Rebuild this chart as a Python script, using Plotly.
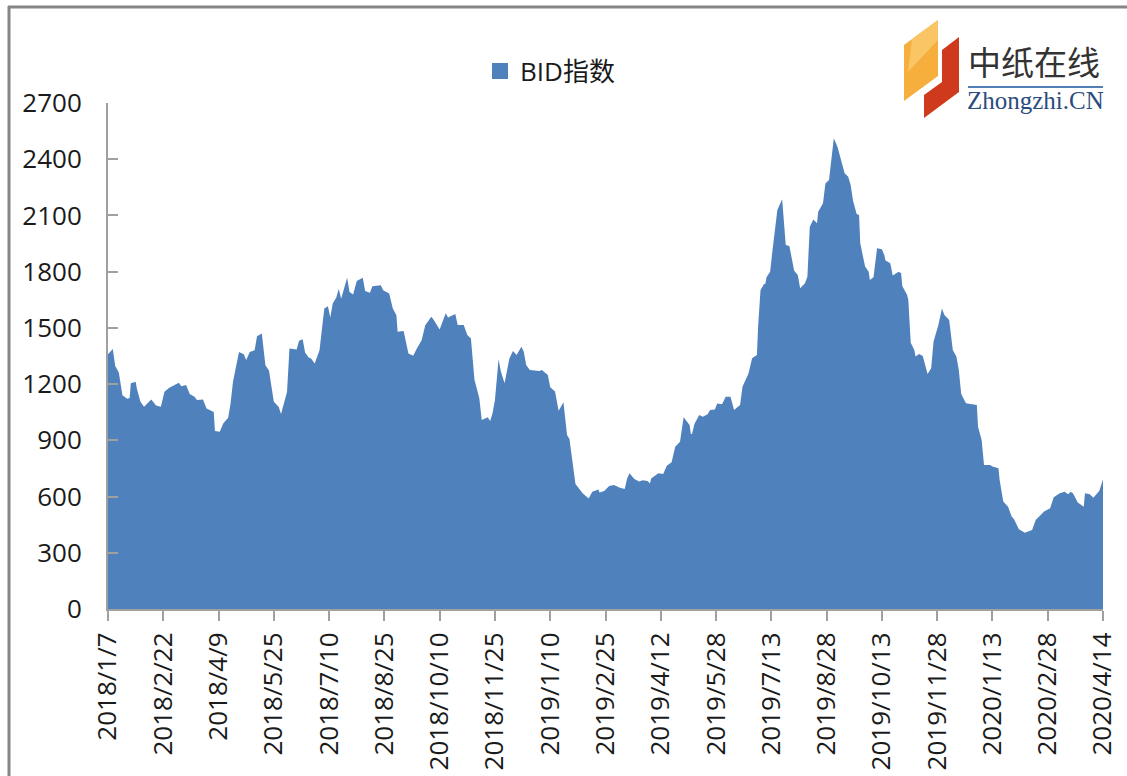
import pandas as pd
import plotly.graph_objects as go

START = "2018-01-07"
day_offsets = [0,2,4,6,9,12,16,18,19,23,24,27,30,36,40,44,47,51,59,61,65,68,72,74,79,82,88,89,93,96,100,102,104,109,113,115,118,122,124,128,131,134,138,142,144,149,151,157,159,162,164,167,169,172,176,180,183,185,187,190,192,194,199,201,204,207,212,214,218,220,227,229,234,237,240,241,246,250,254,257,261,264,269,271,276,
281,283,289,291,296,299,302,305,309,311,316,318,320,322,325,327,330,334,337,340,344,346,348,351,359,361,366,368,372,375,379,382,384,387,389,395,400,403,408,409,413,417,421,426,430,432,434,438,442,445,449,451,452,458,462,465,469,472,476,479,484,485,486,488,492,495,499,501,505,507,511,514,518,521,526,528,533,
536,540,541,543,546,547,548,551,553,557,561,563,564,567,569,571,574,576,580,582,584,587,590,591,595,597,600,602,604,607,610,613,616,618,620,623,625,626,630,633,634,637,640,644,646,647,651,653,658,660,661,665,666,668,671,672,675,678,682,685,687,691,694,696,700,703,706,708,710,714,723,724,727,729,734,736,741,742,745,749,752,754,758,763,769,772,779,784,787,792,796,799,801,803,807,812,813,817,820,825,828]
bid_index = [1360,1372,1388,1296,1262,1141,1122,1126,1204,1212,1177,1106,1079,1118,1086,1079,1159,1180,1207,1189,1195,1147,1133,1115,1118,1070,1051,950,946,991,1021,1097,1212,1372,1360,1328,1372,1381,1456,1470,1301,1271,1106,1079,1040,1159,1390,1385,1431,1440,1369,1342,1337,1310,1381,1603,1615,1555,1630,1662,1709,1656,1768,1692,1678,1750,1768,1697,1688,1722,1727,1701,1683,1603,1567,1479,1484,1363,1351,1390,1434,1514,1559,1544,1492,
1578,1556,1574,1515,1515,1462,1444,1222,1124,1008,1023,1003,1044,1115,1332,1266,1204,1337,1377,1355,1400,1373,1302,1275,1270,1275,1249,1183,1160,1058,1103,928,907,777,667,617,590,626,638,621,630,656,662,647,640,697,724,694,681,687,683,669,697,724,720,765,783,866,893,1023,982,934,934,987,1035,1026,1039,1062,1065,1097,1092,1133,1133,1062,1088,1186,1257,
1338,1355,1507,1702,1734,1734,1770,1800,1916,2129,2186,2005,1942,1937,1880,1805,1782,1711,1738,1773,2040,2079,2058,2120,2165,2271,2289,2396,2512,2467,2396,2325,2307,2262,2179,2108,2102,1951,1827,1800,1756,1770,1925,1919,1889,1859,1845,1779,1800,1791,1724,1676,1649,1421,1382,1347,1361,1350,1254,1284,1427,1515,1604,1569,1542,1382,1347,1275,1147,1098,1089,973,902,768,768,760,751,688,573,546,493,479,425,407,422,475,520,537,596,617,626,612,626,617,568,546,617,612,594,631,692]
tick_labels = ["2018/1/7","2018/2/22","2018/4/9","2018/5/25","2018/7/10","2018/8/25","2018/10/10","2018/11/25","2019/1/10","2019/2/25","2019/4/12","2019/5/28","2019/7/13","2019/8/28","2019/10/13","2019/11/28","2020/1/13","2020/2/28","2020/4/14"]
y_ticks = [0,300,600,900,1200,1500,1800,2100,2400,2700]

W, H = 1127, 776
L, R, T, B = 108, 1103, 103, 609
FONT = "Open Sans, Noto Sans CJK SC, sans-serif"
GREY = "#868686"
AXIS = "#A0A0A0"

def px(x):
    return (x - L) / (R - L)
def py(y):
    return (B - y) / (B - T)
def path(points):
    return "M " + " L ".join(f"{px(x):.5f},{py(y):.5f}" for x, y in points) + " Z"

dates = pd.Timestamp(START) + pd.to_timedelta(day_offsets, unit="D")
ticks = pd.to_datetime(tick_labels, format="%Y/%m/%d")

fig = go.Figure()
fig.add_trace(go.Scatter(x=dates, y=bid_index, mode="lines", name="BID指数", showlegend=False,
                         fill="tozeroy", fillcolor="#4F81BD", line=dict(width=0, color="#4F81BD")))
fig.add_trace(go.Scatter(x=[None], y=[None], mode="markers", name="BID指数",
                         marker=dict(symbol="square", size=16, color="#4F81BD")))

shapes = [
    dict(type="line", xref="paper", yref="paper", x0=px(8), x1=px(W), y0=py(7), y1=py(7), line=dict(color=GREY, width=3)),
    dict(type="line", xref="paper", yref="paper", x0=px(9), x1=px(9), y0=py(6), y1=py(H), line=dict(color=GREY, width=3)),
    dict(type="path", xref="paper", yref="paper", path=path([(904,45),(938,20),(938,76),(904,101)]), fillcolor="#F6AE3C", line=dict(width=0)),
    dict(type="path", xref="paper", yref="paper", path=path([(912,39),(938,20),(938,40),(908,72)]), fillcolor="#F9C565", line=dict(width=0)),
    dict(type="path", xref="paper", yref="paper", path=path([(942,50),(959,37),(959,92),(924,118),(924,95),(942,82)]), fillcolor="#CF3A1C", line=dict(width=0)),
    dict(type="line", xref="paper", yref="paper", x0=px(968), x1=px(1103), y0=py(87), y1=py(87), line=dict(color="#4F7FB5", width=2)),
    # tick marks inside the value axis
]
annotations = [
    dict(text="中纸在线", xref="paper", yref="paper", x=px(1034), y=py(61), showarrow=False, xanchor="center", yanchor="middle",
         font=dict(family="Noto Sans CJK SC", size=33, color="#333333")),
    dict(text="Zhongzhi.CN", xref="paper", yref="paper", x=px(1035.5), y=py(100), showarrow=False, xanchor="center", yanchor="middle",
         font=dict(family="Liberation Serif", size=25, color="#2B4C7E")),
]

fig.update_layout(
    width=W, height=H, paper_bgcolor="white", plot_bgcolor="white",
    margin=dict(l=L, r=W - R, t=T, b=H - B, autoexpand=False),
    font=dict(family=FONT, size=26, color="#1A1A1A"),
    showlegend=True,
    legend=dict(orientation="h", xref="paper", yref="paper", x=px(480), y=py(71), xanchor="left", yanchor="middle",
                font=dict(size=26), itemwidth=30, bgcolor="rgba(0,0,0,0)"),
    shapes=shapes, annotations=annotations,
    xaxis=dict(type="date", range=[dates[0], dates[-1]], tickmode="array", tickvals=ticks, ticktext=tick_labels,
               tickangle=-90, ticks="outside", ticklen=10, tickcolor=AXIS, tickwidth=2, showgrid=False,
               showline=True, linecolor=AXIS, linewidth=2, ticklabelstandoff=1, layer="above traces"),
    yaxis=dict(range=[0, 2700], tickmode="array", tickvals=y_ticks, ticks="inside", ticklen=10, tickcolor=AXIS,
               tickwidth=2, showgrid=False, zeroline=False, showline=True, linecolor=AXIS, linewidth=2,
               ticklabelstandoff=19, layer="above traces"),
)

fig.write_html("out.html", post_script="document.body.style.margin='0';", config={"displayModeBar": False})
